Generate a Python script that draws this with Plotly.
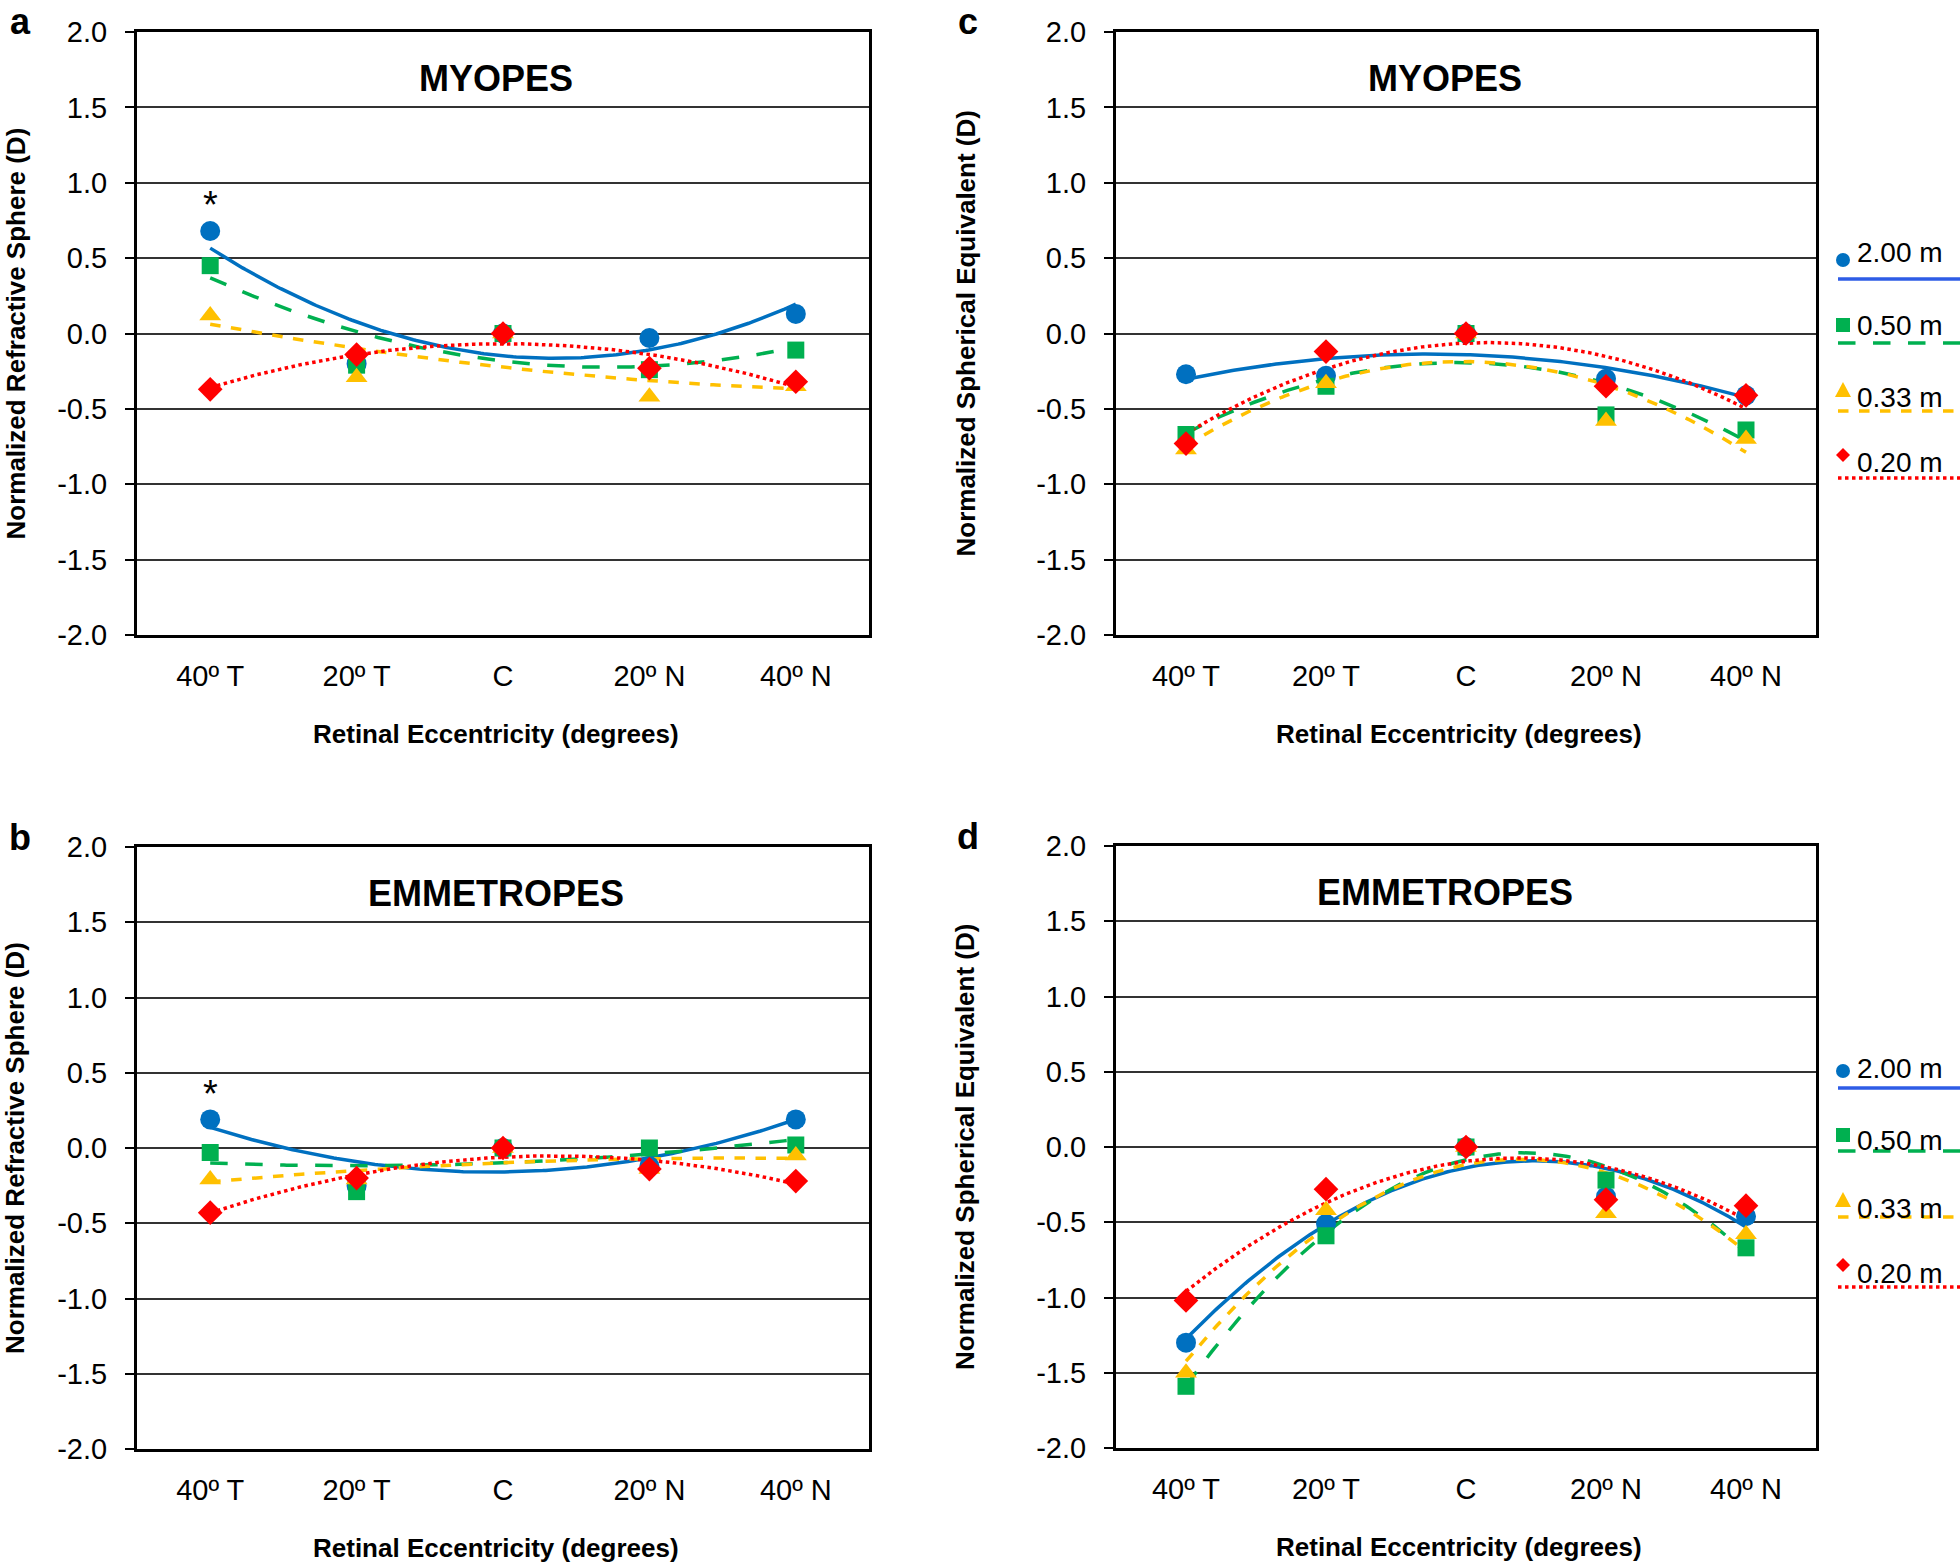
import numpy as np
import plotly.graph_objects as go

W, H = 1960, 1564

categories = ["40º T", "20º T", "C", "20º N", "40º N"]
cat_pos = [1, 2, 3, 4, 5]
distances = ["2.00 m", "0.50 m", "0.33 m", "0.20 m"]
y_ticks = [-2.0, -1.5, -1.0, -0.5, 0.0, 0.5, 1.0, 1.5, 2.0]
y_ticktext = ["-2.0", "-1.5", "-1.0", "-0.5", "0.0", "0.5", "1.0", "1.5", "2.0"]

# panel a - myopes, refractive sphere
myo_sph_200 = [0.68, -0.20, 0.0, -0.03, 0.13]
myo_sph_050 = [0.45, -0.21, 0.0, -0.24, -0.11]
myo_sph_033 = [0.12, -0.29, 0.0, -0.42, -0.35]
myo_sph_020 = [-0.37, -0.14, 0.0, -0.23, -0.32]

# panel b - emmetropes, refractive sphere
emm_sph_200 = [0.19, -0.25, 0.0, -0.12, 0.19]
emm_sph_050 = [-0.03, -0.29, 0.0, 0.0, 0.02]
emm_sph_033 = [-0.21, -0.21, 0.0, -0.14, -0.05]
emm_sph_020 = [-0.43, -0.20, 0.0, -0.14, -0.22]

# panel c - myopes, spherical equivalent
myo_se_200 = [-0.27, -0.28, 0.0, -0.30, -0.41]
myo_se_050 = [-0.67, -0.35, 0.0, -0.54, -0.64]
myo_se_033 = [-0.77, -0.33, 0.0, -0.58, -0.70]
myo_se_020 = [-0.73, -0.12, 0.0, -0.35, -0.41]

# panel d - emmetropes, spherical equivalent
emm_se_200 = [-1.30, -0.51, 0.0, -0.33, -0.46]
emm_se_050 = [-1.59, -0.59, 0.0, -0.22, -0.67]
emm_se_033 = [-1.50, -0.42, 0.0, -0.44, -0.58]
emm_se_020 = [-1.02, -0.28, 0.0, -0.35, -0.39]

colors = ["#0070C0", "#00B050", "#FFC000", "#FF0000"]
symbols = ["circle", "square", "triangle-up", "diamond"]
msizes = [20, 17, 19, 19]
dashes = ["solid", "longdash", "dash", "dot"]
lwidths = [3.5, 3.5, 3.5, 3.5]

FONT = "Arial, Liberation Sans, sans-serif"

# pixel boxes of the four panels: (left, right, top, bottom)
boxes = {
    "a": (137, 869, 32, 635),
    "c": (1116, 1816, 32, 635),
    "b": (137, 869, 847, 1449),
    "d": (1116, 1816, 846, 1448),
}
# legend rows (offsets below panel top): text, symbol, line sample
legend_rows = {
    "c": ([221, 293, 365, 430], [228, 293, 358, 423], [247, 311, 379, 446]),
    "d": ([222, 294, 362, 427], [225, 289, 354, 419], [242, 305, 371, 441]),
}
panels = [
    ("a", "", "MYOPES", "Normalized Refractive Sphere (D)",
     [myo_sph_200, myo_sph_050, myo_sph_033, myo_sph_020], True),
    ("c", "2", "MYOPES", "Normalized Spherical Equivalent (D)",
     [myo_se_200, myo_se_050, myo_se_033, myo_se_020], False),
    ("b", "3", "EMMETROPES", "Normalized Refractive Sphere (D)",
     [emm_sph_200, emm_sph_050, emm_sph_033, emm_sph_020], True),
    ("d", "4", "EMMETROPES", "Normalized Spherical Equivalent (D)",
     [emm_se_200, emm_se_050, emm_se_033, emm_se_020], False),
]


def px(x):
    return x / W


def py(y):
    return 1 - y / H


def label(x, y, text, size, **kw):
    d = dict(x=px(x), y=py(y), xref="paper", yref="paper", text=text,
             showarrow=False, xanchor="center", yanchor="middle",
             font=dict(size=size, color="black", family=FONT))
    d.update(kw)
    return d


fig = go.Figure()
annotations = []
shapes = []
xs = np.linspace(1, 5, 200)

for letter, ax, title, ytitle, series, star in panels:
    l, r, t, b = boxes[letter]
    xref, yref = "x" + ax, "y" + ax
    right_col = letter in "cd"
    # polynomial (order 2) trend lines
    for i, ys in enumerate(series):
        coef = np.polyfit(cat_pos, ys, 2)
        fig.add_trace(go.Scatter(
            x=xs, y=np.polyval(coef, xs), mode="lines", xaxis=xref, yaxis=yref,
            line=dict(color=colors[i], width=lwidths[i], dash=dashes[i]),
            showlegend=False, hoverinfo="skip"))
    for i, ys in enumerate(series):
        fig.add_trace(go.Scatter(
            x=cat_pos, y=ys, mode="markers", xaxis=xref, yaxis=yref,
            marker=dict(color=colors[i], symbol=symbols[i], size=msizes[i], line=dict(width=0)),
            name=distances[i], showlegend=False))

    fig.layout["xaxis" + ax] = dict(
        domain=[px(l), px(r)], anchor=yref, range=[0.5, 5.5], automargin=False,
        tickvals=cat_pos, ticktext=categories, showgrid=False, zeroline=False,
        showline=True, linecolor="black", linewidth=3, mirror=True, ticks="",
        ticklabelstandoff=13, tickfont=dict(size=29, color="black", family=FONT))
    fig.layout["yaxis" + ax] = dict(
        domain=[py(b), py(t)], anchor=xref, range=[-2.0, 2.0], automargin=False,
        tickvals=y_ticks, ticktext=y_ticktext,
        showgrid=True, gridcolor="#333333", gridwidth=2, zeroline=False,
        showline=True, linecolor="black", linewidth=3, mirror=True,
        ticks="outside", ticklen=9, tickwidth=2, tickcolor="black",
        ticklabelstandoff=12, tickfont=dict(size=29, color="black", family=FONT))

    annotations.append(label(l - (151 if right_col else 122), (t + b) / 2,
                             "<b>%s</b>" % ytitle, 26, textangle=-90))
    annotations.append(label((l + r) / 2 - 7, b + 99, "<b>Retinal Eccentricity (degrees)</b>", 26))
    annotations.append(label((l + r) / 2 - 7 - (14 if right_col else 0), t + 46,
                             "<b>%s</b>" % title, 36))
    annotations.append(label(l - (148 if right_col else 117), t - 10, "<b>%s</b>" % letter, 36))
    if star:
        annotations.append(dict(
            x=1, y=series[0][0] + 0.17, xref=xref, yref=yref, text="*",
            showarrow=False, xanchor="center", yanchor="middle",
            font=dict(size=38, color="black", family=FONT)))

    # legend to the right of the spherical-equivalent panels
    if letter in legend_rows:
        ty, my, ly = legend_rows[letter]
        for i, name in enumerate(distances):
            cy = t + my[i]
            cx = 1843
            s = 7
            if symbols[i] == "circle":
                shapes.append(dict(type="circle", xref="paper", yref="paper",
                                   x0=px(cx - s), x1=px(cx + s), y0=py(cy + s), y1=py(cy - s),
                                   fillcolor=colors[i], line=dict(width=0)))
            elif symbols[i] == "square":
                shapes.append(dict(type="rect", xref="paper", yref="paper",
                                   x0=px(cx - s), x1=px(cx + s), y0=py(cy + s), y1=py(cy - s),
                                   fillcolor=colors[i], line=dict(width=0)))
            elif symbols[i] == "triangle-up":
                path = "M %f %f L %f %f L %f %f Z" % (
                    px(cx - s - 1), py(cy + s), px(cx + s + 1), py(cy + s), px(cx), py(cy - s - 1))
                shapes.append(dict(type="path", xref="paper", yref="paper", path=path,
                                   fillcolor=colors[i], line=dict(width=0)))
            else:
                path = "M %f %f L %f %f L %f %f L %f %f Z" % (
                    px(cx - s), py(cy), px(cx), py(cy - s), px(cx + s), py(cy), px(cx), py(cy + s))
                shapes.append(dict(type="path", xref="paper", yref="paper", path=path,
                                   fillcolor=colors[i], line=dict(width=0)))
            annotations.append(label(1855, t + ty[i], name, 28, xanchor="left"))
            lc = "#2E5CE6" if i == 0 else colors[i]
            shapes.append(dict(type="line", xref="paper", yref="paper",
                               x0=px(1838), x1=px(1960), y0=py(t + ly[i]), y1=py(t + ly[i]),
                               line=dict(color=lc, width=3.5, dash=dashes[i])))

fig.update_layout(
    width=W, height=H, margin=dict(l=0, r=0, t=0, b=0, autoexpand=False),
    paper_bgcolor="white", plot_bgcolor="white",
    font=dict(family=FONT, color="black"),
    annotations=annotations, shapes=shapes, showlegend=False)

# the page body has a default 8px margin; drop it so the figure fills the window
fig.write_html("out.html", config={"displayModeBar": False},
               post_script="document.body.style.margin='0';")
